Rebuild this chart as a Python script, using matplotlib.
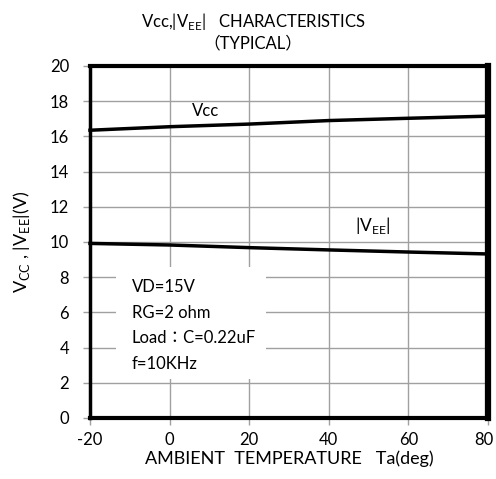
import matplotlib.pyplot as plt
import matplotlib.transforms as mtransforms
from matplotlib.patches import Rectangle

plt.rcParams['font.family'] = ['Lato', 'Noto Sans CJK JP', 'DejaVu Sans']
plt.rcParams['font.size'] = 12
plt.rcParams['axes.unicode_minus'] = False

temp = [-20, 0, 20, 40, 60, 80]
vcc = [16.35, 16.55, 16.7, 16.9, 17.03, 17.15]
vee = [9.92, 9.83, 9.68, 9.55, 9.43, 9.32]
xticks = [-20, 0, 20, 40, 60, 80]
yticks = [0, 2, 4, 6, 8, 10, 12, 14, 16, 18, 20]
cond_text = "VD=15V\nRG=2 ohm\nLoad：C=0.22uF\nf=10KHz"

fig = plt.figure(figsize=(4.96, 4.79), dpi=100)
ax = fig.add_axes([90/496, 1-418/479, 398/496, 352/479])

ax.set_xlim(-20, 80)
ax.set_ylim(0, 20)
ax.set_xticks(xticks)
ax.set_yticks(yticks)
ax.grid(True, color='#a0a0a0', lw=1.0)
ax.set_axisbelow(True)

# white box behind the conditions text
ax.add_patch(Rectangle((-13.5, 2.2), 37.7, 6.4, facecolor='white',
                       edgecolor='none', zorder=1.5))
ax.text(-9.5, 7.9, cond_text, ha='left', va='top', fontsize=12,
        linespacing=1.75, zorder=3)

ax.plot(temp, vcc, color='black', lw=2.5, zorder=4, clip_on=False)
ax.plot(temp, vee, color='black', lw=2.5, zorder=4, clip_on=False)

ax.text(9, 17.0, 'Vcc', ha='center', va='bottom', fontsize=12)
ax.text(51, 10.95, r'|V$_{\mathregular{EE}}$|', ha='center', va='center', fontsize=12.5)

for side, w in [('left', 2.5), ('top', 3), ('right', 4.5), ('bottom', 3)]:
    ax.spines[side].set_linewidth(w)
    ax.spines[side].set_color('black')

ax.tick_params(axis='both', direction='out', length=5, width=1, color='#a0a0a0',
               labelsize=12)
ax.tick_params(axis='y', pad=10)
ax.tick_params(axis='x', pad=5)

# keep the last x label inside the picture
last = ax.get_xticklabels()[-1]
last.set_transform(last.get_transform() +
                   mtransforms.ScaledTranslation(-3/72, 0, fig.dpi_scale_trans))

ax.set_xlabel('AMBIENT  TEMPERATURE   Ta(deg)', fontsize=13, labelpad=2)
ax.set_ylabel(r'V$_{\mathregular{CC}}$ , |V$_{\mathregular{EE}}$|(V)', fontsize=13, labelpad=13)

fig.text(253/496, 1-21/479, r'Vcc,|V$_{\mathregular{EE}}$|   CHARACTERISTICS',
         ha='center', va='center', fontsize=12)
fig.text(253/496, 1-43/479, '（TYPICAL）', ha='center', va='center', fontsize=12)

fig.savefig('out.png', dpi=100, facecolor='white')
